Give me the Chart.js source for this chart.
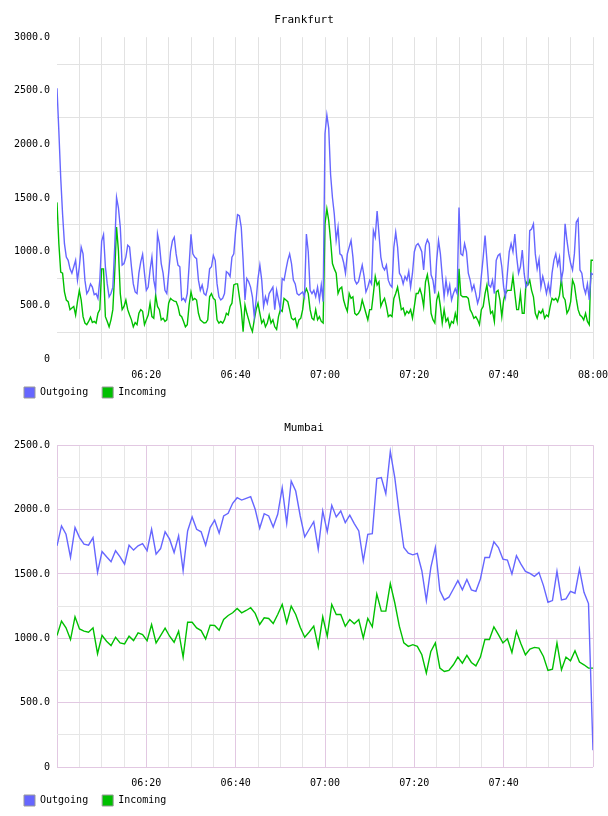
<!DOCTYPE html>
<html>
<head>
<meta charset="utf-8">
<title>Frankfurt / Mumbai traffic</title>
<script src="https://cdn.jsdelivr.net/npm/chart.js@4.4.1/dist/chart.umd.min.js"></script>
<style>
    html, body { margin: 0; padding: 0; background: #fff; }
    .box { width: 608px; height: 408px; }
    canvas { display: block; }
</style>
</head>
<body>
<div class="box"><canvas id="fra" width="608" height="408"></canvas></div>
<div class="box"><canvas id="mum" width="608" height="408"></canvas></div>
<script>
// Time axis, in minutes after 06:00
var axisStartHour = 6;
var axisMinutes = 120;

var seriesNames = ['Outgoing', 'Incoming'];
var seriesColors = ['#6666ff', '#00c000'];

// Frankfurt: one sample every 25 seconds
var fraStepMin = 25 / 60;
var fraOutgoing = [
    2524, 2120, 1690, 1350, 1075, 950, 920, 840, 800, 860, 920, 735, 860, 1043, 980, 735, 610, 640, 700, 670,
    600, 610, 565, 735, 1100, 1160, 860, 700, 580, 610, 670, 1043, 1506, 1410, 1230, 875, 890, 950, 1060, 1043,
    860, 700, 625, 610, 800, 905, 975, 800, 640, 670, 830, 950, 735, 640, 1165, 1075, 890, 800, 640, 610,
    800, 1000, 1100, 1135, 980, 875, 860, 550, 565, 535, 610, 875,
    1163, 980, 950, 935, 735, 640, 690, 610, 595, 670, 840, 860, 965, 920, 700, 580, 550, 565, 610, 815,
    800, 770, 950, 980, 1197, 1345, 1335, 1228, 920, 550, 750, 720, 670, 580, 395, 550, 750, 875, 735, 490,
    580, 520, 610, 640, 670, 460, 640, 550, 460, 750, 735, 830, 920, 980, 890, 735, 700, 610, 595, 610,
    625, 580, 1165, 1000, 640, 610, 640, 580, 670, 550, 690, 535,
    2100, 2275, 2150, 1720, 1506, 1350, 1105, 1228, 980, 965, 900, 800, 980, 1043, 1105, 950, 735, 700, 720, 800,
    875, 770, 625, 670, 735, 700, 1197, 1135, 1380, 1165, 950, 860, 830, 875, 735, 690, 670, 1043, 1180, 1043,
    800, 770, 700, 770, 735, 815, 670, 800, 1000, 1060, 1075, 1043, 1000, 830, 1060, 1112, 1075, 785, 735, 610,
    920, 1105, 980, 770, 580, 735, 610, 690, 550, 610, 655, 610,
    1413, 980, 965, 1075, 1000, 800, 735, 640, 690, 610, 520, 580, 770, 950, 1150, 920, 690, 670, 735, 610,
    920, 965, 980, 860, 670, 580, 800, 1000, 1075, 1000, 1165, 950, 800, 860, 1015, 800, 670, 700, 1197, 1212,
    1260, 980, 840, 930, 670, 770, 700, 610, 700, 610, 800, 920, 980, 875, 950, 735, 830, 1260, 1105, 980,
    890, 830, 980, 1275, 1305, 830, 800, 670, 610, 700, 550, 800, 785
];
var fraIncoming = [
    1460, 1075, 810, 800, 625, 550, 535, 460, 475, 490, 410, 535, 640, 550, 395, 335, 320, 350, 390, 340,
    350, 335, 426, 460, 840, 840, 395, 350, 300, 365, 460, 800, 1230, 1010, 610, 460, 490, 550, 460, 410,
    365, 300, 340, 320, 426, 460, 445, 320, 365, 410, 520, 395, 380, 595, 490, 460, 365, 380, 350, 365,
    520, 565, 550, 540, 535, 490, 410, 395, 350, 300, 320, 505,
    625, 550, 565, 550, 426, 365, 350, 335, 340, 365, 580, 610, 565, 550, 365, 335, 350, 335, 365, 426,
    410, 490, 520, 690, 700, 700, 580, 460, 255, 505, 426, 365, 300, 255, 365, 460, 520, 426, 335, 365,
    300, 335, 410, 335, 365, 300, 275, 395, 460, 445, 565, 550, 535, 460, 380, 365, 380, 300, 365, 380,
    460, 610, 655, 610, 460, 380, 365, 460, 365, 395, 350, 335,
    1260, 1400, 1290, 1105, 890, 840, 800, 610, 655, 670, 550, 490, 445, 610, 565, 580, 426, 410, 426, 460,
    550, 490, 426, 365, 460, 460, 610, 770, 690, 720, 490, 535, 565, 490, 395, 410, 395, 565, 610, 670,
    565, 460, 475, 410, 445, 426, 460, 380, 490, 610, 610, 655, 595, 490, 720, 785, 670, 426, 365, 335,
    550, 610, 490, 335, 460, 350, 380, 300, 350, 335, 426, 350,
    840, 595, 580, 580, 580, 565, 460, 426, 380, 395, 365, 320, 460, 490, 610, 690, 550, 426, 445, 350,
    625, 640, 550, 395, 550, 610, 640, 640, 640, 770, 610, 460, 460, 610, 426, 426, 720, 690, 735, 640,
    580, 426, 380, 445, 426, 460, 380, 410, 395, 490, 565, 550, 565, 535, 595, 750, 580, 550, 426, 460,
    535, 735, 690, 565, 460, 410, 395, 365, 426, 350, 320, 920, 920
];

// Mumbai: 120 samples, the last one lands on 08:00
var mumStepMin = 120 / 119;
var mumOutgoing = [
    1718, 1873, 1808, 1628, 1860, 1782, 1731, 1723, 1782, 1512,
    1674, 1633, 1594, 1680, 1633, 1576, 1723, 1685, 1718, 1736,
    1680, 1847, 1654, 1697, 1827, 1770, 1666, 1796, 1525, 1834,
    1943, 1847, 1827, 1723, 1860, 1917, 1817, 1950, 1971, 2049,
    2092, 2074, 2087, 2100, 2002, 1855, 1968, 1950, 1865, 1963,
    2170, 1894, 2221, 2144, 1950, 1788, 1847, 1906, 1692, 1989,
    1827, 2033, 1943, 1989, 1899, 1956, 1891, 1834, 1601, 1808,
    1813, 2241, 2249, 2123, 2450, 2246, 1963, 1705, 1661, 1648,
    1659, 1525, 1293, 1551, 1705, 1370, 1298, 1319, 1383, 1448,
    1376, 1456, 1376, 1365, 1461, 1628, 1628, 1749, 1705, 1615,
    1607, 1499, 1641, 1576, 1520, 1504, 1481, 1512, 1409, 1280,
    1293, 1520, 1298, 1306, 1365, 1350, 1538, 1357, 1270, 130
];
var mumIncoming = [
    1021, 1133, 1081, 990, 1167, 1073, 1055, 1047, 1081, 880,
    1023, 977, 943, 1008, 964, 956, 1016, 982, 1042, 1029,
    982, 1107, 964, 1021, 1078, 1016, 969, 1055, 854, 1125,
    1125, 1081, 1060, 995, 1102, 1099, 1062, 1146, 1177, 1198,
    1232, 1198, 1216, 1237, 1193, 1107, 1159, 1154, 1115, 1185,
    1263, 1120, 1250, 1185, 1086, 1008, 1049, 1094, 932, 1167,
    1016, 1263, 1185, 1185, 1094, 1146, 1112, 1146, 1003, 1154,
    1089, 1344, 1211, 1211, 1424, 1274, 1094, 964, 937, 950,
    937, 872, 729, 898, 964, 768, 742, 750, 794, 854,
    807, 867, 812, 786, 854, 990, 990, 1089, 1029, 964,
    997, 890, 1055, 958, 872, 916, 929, 924, 859, 750,
    760, 964, 755, 854, 825, 903, 815, 794, 768, 768
];

(function() {
    'use strict';

    var MONO = '"DejaVu Sans Mono", "Liberation Mono", monospace';
    var NONE = 'rgba(0,0,0,0)';

    // The time labels hang below the short x box, so let them draw outside it
    var labelRoom = {
        id: 'labelRoom',
        afterLayout: function(chart) {
            chart.scales.x.bottom += 8;
        }
    };

    // Build {x, y} points, x in minutes after 06:00
    function toPoints(values, step) {
        return values.map(function(v, i) {
            return { x: i * step, y: v };
        });
    }

    function timeLabel(min) {
        var h = axisStartHour + Math.floor(min / 60);
        var m = min % 60;
        return (h < 10 ? '0' : '') + h + ':' + (m < 10 ? '0' : '') + m;
    }

    function valueLabel(v) {
        if (v % 500 !== 0) {
            return '';
        }
        return v === 0 ? '0' : v.toFixed(1);
    }

    function makeChart(id, title, outgoing, incoming, step, yMax, look) {
        var values = [outgoing, incoming];

        return new Chart(document.getElementById(id), {
            type: 'line',
            plugins: [labelRoom],
            data: {
                datasets: values.map(function(serie, i) {
                    return {
                        label: seriesNames[i],
                        data: toPoints(serie, step),
                        borderColor: seriesColors[i],
                        backgroundColor: seriesColors[i],
                        borderWidth: 1.4,
                        pointRadius: 0,
                        tension: 0,
                        fill: false
                    };
                })
            },
            options: {
                responsive: false,
                animation: false,
                devicePixelRatio: 1,
                events: [],
                layout: { padding: { left: 10, right: 10, top: 0, bottom: 0 } },
                plugins: {
                    title: {
                        display: true,
                        text: title,
                        color: '#000',
                        font: { family: MONO, size: 11, weight: 'normal' },
                        padding: { top: 14, bottom: 10 }
                    },
                    legend: {
                        position: 'bottom',
                        align: 'start',
                        labels: {
                            boxWidth: 11,
                            boxHeight: 11,
                            padding: 14,
                            color: '#000',
                            font: { family: MONO, size: 10 },
                            generateLabels: function(chart) {
                                return chart.data.datasets.map(function(ds, i) {
                                    return {
                                        text: ds.label,
                                        fillStyle: ds.borderColor,
                                        strokeStyle: '#999999',
                                        lineWidth: 1,
                                        hidden: false,
                                        datasetIndex: i
                                    };
                                });
                            }
                        }
                    },
                    tooltip: { enabled: false }
                },
                scales: {
                    x: {
                        type: 'linear',
                        min: 0,
                        max: axisMinutes,
                        border: { display: false },
                        grid: {
                            drawTicks: false,
                            color: function(ctx) { return look.xGrid(ctx.tick.value); }
                        },
                        ticks: {
                            stepSize: 5,
                            autoSkip: false,
                            maxRotation: 0,
                            minRotation: 0,
                            padding: 10,
                            color: '#000',
                            font: { family: MONO, size: 10 },
                            callback: function(v) {
                                return look.xLabel(v) ? timeLabel(v) : '';
                            }
                        },
                        afterFit: function(scale) {
                            scale.height = 14;
                            scale.paddingLeft = 0;
                            scale.paddingRight = 15;
                        }
                    },
                    y: {
                        min: 0,
                        max: yMax,
                        border: { display: false },
                        grid: {
                            drawTicks: false,
                            color: function(ctx) { return look.yGrid(ctx.tick.value); }
                        },
                        ticks: {
                            stepSize: 250,
                            autoSkip: false,
                            padding: 7,
                            color: '#000',
                            font: { family: MONO, size: 10 },
                            callback: valueLabel
                        },
                        afterFit: function(scale) {
                            scale.width = 47;
                        }
                    }
                }
            }
        });
    }

    // Frankfurt: plain grey grid, horizontal lines between the labels
    makeChart('fra', 'Frankfurt', fraOutgoing, fraIncoming, fraStepMin, 3000, {
        xGrid: function(v) { return v === 0 ? NONE : '#e2e2e2'; },
        yGrid: function(v) { return v % 500 === 0 ? NONE : '#e2e2e2'; },
        xLabel: function(v) { return v > 0 && v % 20 === 0; }
    });

    // Mumbai: mauve major lines, grey minor lines
    makeChart('mum', 'Mumbai', mumOutgoing, mumIncoming, mumStepMin, 2500, {
        xGrid: function(v) { return v % 20 === 0 ? '#e2c8e2' : '#e6e6e6'; },
        yGrid: function(v) { return v % 500 === 0 ? '#e2c8e2' : '#e6e6e6'; },
        xLabel: function(v) { return v > 0 && v < axisMinutes && v % 20 === 0; }
    });
})();
</script>
</body>
</html>
